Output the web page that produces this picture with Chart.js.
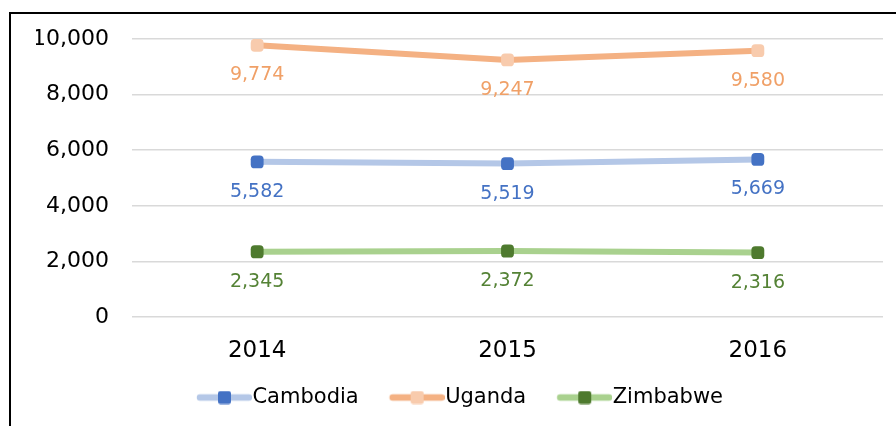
<!DOCTYPE html>
<html>
<head>
<meta charset="utf-8">
<script src="https://cdn.jsdelivr.net/npm/chart.js@4"></script>
<style>
  html,body{margin:0;padding:0;background:#fff;}
  #wrap{position:relative;width:896px;height:426px;overflow:hidden;}
  #frame{position:absolute;left:9px;top:12px;width:1000px;height:1000px;border-left:2px solid #000;border-top:2px solid #000;pointer-events:none;}
  canvas{position:absolute;left:0;top:0;}
</style>
</head>
<body>
<div id="wrap">
  <canvas id="c" width="896" height="426"></canvas>
  <div id="frame"></div>
</div>
<script>
const categories = ['2014', '2015', '2016'];
const cambodia = [5582, 5519, 5669];
const uganda = [9774, 9247, 9580];
const zimbabwe = [2345, 2372, 2316];
const seriesNames = ['Cambodia', 'Uganda', 'Zimbabwe'];
const yTicks = [0, 2000, 4000, 6000, 8000, 10000];

const FONT = '"DejaVu Sans", sans-serif';
const styles = [
  {line:'#b4c7e7', marker:'#4472c4', label:'#4472c4'},
  {line:'#f4b183', marker:'#f8cbad', label:'#f0a067'},
  {line:'#a9d18e', marker:'#4e7a2e', label:'#548235'}
];

// legend icon: line with a square marker; drawn in the right part of the canvas
function legendIcon(s){
  const cv = document.createElement('canvas');
  cv.width = 66; cv.height = 14;
  const x = cv.getContext('2d');
  x.strokeStyle = s.line; x.lineWidth = 6.5; x.lineCap = 'round';
  x.beginPath(); x.moveTo(14,7); x.lineTo(63,7); x.stroke();
  x.fillStyle = s.marker;
  x.beginPath();
  if (x.roundRect) x.roundRect(32,0.5,13,13,2.5); else x.rect(32,0.5,13,13);
  x.fill();
  return cv;
}
const icons = styles.map(legendIcon);

const dataLabels = {
  id:'dataLabels',
  afterDatasetsDraw(chart){
    const ctx = chart.ctx;
    ctx.save();
    ctx.font = '19px ' + FONT;
    ctx.textAlign = 'center';
    ctx.textBaseline = 'middle';
    chart.data.datasets.forEach((ds, i) => {
      const meta = chart.getDatasetMeta(i);
      ctx.fillStyle = styles[i].label;
      meta.data.forEach((pt, j) => {
        ctx.fillText(ds.data[j].toLocaleString('en-US'), pt.x, pt.y + 30);
      });
    });
    ctx.restore();
  }
};

const allSeries = [cambodia, uganda, zimbabwe];
new Chart(document.getElementById('c'), {
  type:'line',
  data:{
    labels: categories,
    datasets: allSeries.map((d, i) => ({
      label: seriesNames[i],
      data: d,
      borderColor: styles[i].line,
      backgroundColor: styles[i].marker,
      pointBackgroundColor: styles[i].marker,
      pointBorderColor: styles[i].marker,
      borderWidth: 6,
      pointStyle: 'rectRounded',
      pointRadius: 7.5,
      pointBorderWidth: 0,
      tension: 0,
      fill: false
    }))
  },
  options:{
    responsive:false,
    animation:false,
    devicePixelRatio:1,
    layout:{padding:{left:36, right:13, top:39, bottom:8}},
    plugins:{
      tooltip:{enabled:false},
      legend:{
        position:'bottom',
        labels:{
          usePointStyle:true,
          pointStyleWidth:46,
          padding:30,
          color:'#000',
          font:{family:FONT, size:21},
          generateLabels(chart){
            return chart.data.datasets.map((ds, i) => ({
              text: ds.label,
              pointStyle: icons[i],
              fillStyle: styles[i].marker,
              strokeStyle: styles[i].line,
              lineWidth: 0,
              datasetIndex: i,
              hidden: false,
              fontColor:'#000'
            }));
          }
        }
      }
    },
    scales:{
      x:{
        offset:true,
        afterFit(scale){ scale.height = 40; },
        grid:{display:false},
        border:{display:false},
        ticks:{color:'#000', padding:12, font:{family:FONT, size:23}}
      },
      y:{
        min:0, max:10000,
        afterFit(scale){ scale.width = 96; },
        afterBuildTicks(scale){ scale.ticks = yTicks.map(v => ({value:v})); },
        grid:{color:'#d9d9d9', lineWidth:1.5, drawTicks:false},
        border:{display:false},
        ticks:{color:'#000', padding:23, font:{family:FONT, size:22},
          callback:v => v.toLocaleString('en-US')}
      }
    }
  },
  plugins:[dataLabels]
});
</script>
</body>
</html>
